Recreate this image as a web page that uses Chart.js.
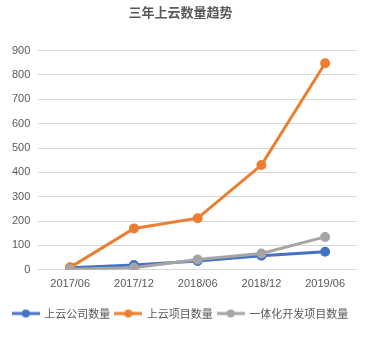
<!DOCTYPE html>
<html lang="zh">
<head>
    <meta charset="UTF-8">
    <title>三年上云数量趋势</title>
    <script src="https://cdn.jsdelivr.net/npm/chart.js@4.4.0/dist/chart.umd.min.js"></script>
    <style>
        html, body { margin: 0; padding: 0; background: #fff; }
        #wrap { width: 375px; height: 339px; }
    </style>
</head>
<body>
    <div id="wrap"><canvas id="trend"></canvas></div>

    <script>
        // data
        const periods = ['2017/06', '2017/12', '2018/06', '2018/12', '2019/06'];
        const companies = [8, 20, 36, 58, 74];
        const projects = [10, 170, 212, 430, 848];
        const integrated = [2, 8, 42, 67, 135];
        const yTicks = [0, 100, 200, 300, 400, 500, 600, 700, 800, 900];

        const seriesColors = ['#4472C4', '#ED7D31', '#A5A5A5'];

        // legend marker: short line with a dot in the middle
        function legendMarker(color) {
            const c = document.createElement('canvas');
            c.width = 28; c.height = 10;
            const g = c.getContext('2d');
            g.strokeStyle = color;
            g.lineWidth = 3;
            g.beginPath(); g.moveTo(0, 5); g.lineTo(28, 5); g.stroke();
            g.fillStyle = color;
            g.beginPath(); g.arc(14, 5, 4, 0, Math.PI * 2); g.fill();
            return c;
        }

        // later series are painted on top, like the original
        function makeSet(label, data, i) {
            return {
                label: label,
                data: data,
                order: 2 - i,
                borderColor: seriesColors[i],
                backgroundColor: seriesColors[i],
                borderWidth: 3,
                pointRadius: 3.5,
                pointHoverRadius: 3.5,
                tension: 0
            };
        }

        const ctx = document.getElementById('trend').getContext('2d');
        new Chart(ctx, {
            type: 'line',
            data: {
                labels: periods,
                datasets: [
                    makeSet('上云公司数量', companies, 0),
                    makeSet('上云项目数量', projects, 1),
                    makeSet('一体化开发项目数量', integrated, 2)
                ]
            },
            options: {
                responsive: true,
                maintainAspectRatio: false,
                animation: false,
                layout: { padding: { left: 4, right: 18, top: 0, bottom: 10 } },
                plugins: {
                    title: {
                        display: true,
                        text: '三年上云数量趋势',
                        color: '#595959',
                        font: { family: '"Noto Sans CJK SC", sans-serif', size: 13, weight: 'bold' },
                        padding: { top: 4, bottom: 31 }
                    },
                    legend: {
                        position: 'bottom',
                        labels: {
                            usePointStyle: true,
                            pointStyleWidth: 26,
                            color: '#595959',
                            font: { family: '"Noto Sans CJK SC", sans-serif', size: 11 },
                            padding: 5,
                            generateLabels: (chart) => chart.data.datasets.map((ds, i) => ({
                                text: ds.label,
                                pointStyle: legendMarker(seriesColors[i]),
                                fontColor: '#595959',
                                datasetIndex: i,
                                hidden: false
                            }))
                        }
                    },
                    tooltip: { enabled: false }
                },
                scales: {
                    x: {
                        offset: true,
                        grid: { display: false },
                        border: { display: false },
                        afterFit: (axis) => { axis.height += 12; },
                        ticks: {
                            color: '#595959',
                            font: { family: '"Liberation Sans", sans-serif', size: 11 },
                            maxRotation: 0,
                            padding: 0
                        }
                    },
                    y: {
                        min: 0,
                        max: 900,
                        afterBuildTicks: (axis) => { axis.ticks = yTicks.map(v => ({ value: v })); },
                        grid: { color: '#D9D9D9', drawTicks: false },
                        border: { display: false },
                        ticks: {
                            color: '#595959',
                            font: { family: '"Liberation Sans", sans-serif', size: 11 },
                            padding: 8
                        }
                    }
                }
            }
        });
    </script>
</body>
</html>
